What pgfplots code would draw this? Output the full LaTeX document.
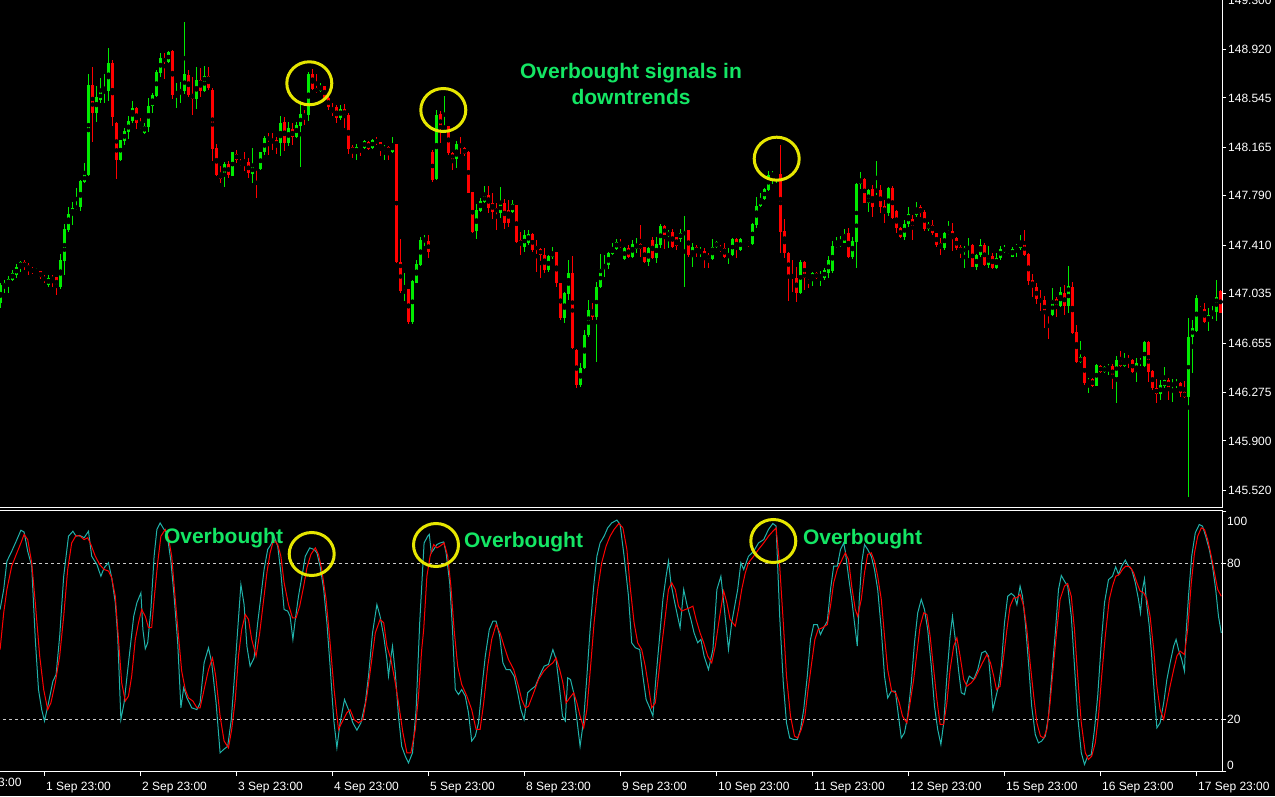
\documentclass[border=0pt]{standalone}
\usepackage{fontspec}
\setmainfont{Liberation Sans}
\usepackage{pgfplots}
\usepackage{pgfplotstable}
\pgfplotsset{compat=1.18}

\definecolor{bull}{RGB}{0,235,0}
\definecolor{bear}{RGB}{255,0,0}
\definecolor{kline}{RGB}{32,178,170}
\definecolor{dline}{RGB}{255,0,0}
\definecolor{levels}{RGB}{200,200,200}
\definecolor{note}{RGB}{20,230,100}
\definecolor{ring}{RGB}{230,230,0}

\newcommand\tickfont{\fontsize{12}{14}\selectfont}
\newcommand\notefont{\bfseries\fontsize{21}{26}\selectfont}

% hourly candles, x = bar index (0 = 1 Sep 23:00)
\pgfplotstableread{
i o h l c
-11 146.964 147.118 146.925 147.102
-10 147.087 147.141 147.041 147.118
-9 147.110 147.172 147.041 147.149
-8 147.141 147.218 147.133 147.195
-7 147.179 147.264 147.156 147.241
-6 147.241 147.287 147.203 147.280
-5 147.280 147.295 147.218 147.241
-4 147.256 147.272 147.179 147.226
-3 147.226 147.241 147.187 147.203
-2 147.208 147.233 147.195 147.212
-1 147.210 147.212 147.149 147.164
0 147.164 147.179 147.118 147.141
1 147.102 147.179 147.087 147.156
2 147.164 147.179 147.087 147.141
3 147.164 147.166 147.025 147.087
4 147.087 147.342 147.072 147.295
5 147.287 147.573 147.179 147.535
6 147.527 147.704 147.511 147.650
7 147.650 147.743 147.565 147.696
8 147.689 147.851 147.681 147.712
9 147.704 147.912 147.673 147.904
10 147.897 148.043 147.889 147.958
11 147.951 148.729 147.943 148.645
12 148.645 148.783 148.205 148.429
13 148.429 148.637 148.359 148.552
14 148.529 148.699 148.506 148.591
15 148.583 148.729 148.506 148.606
16 148.598 148.930 148.521 148.814
17 148.814 148.837 148.329 148.398
18 148.352 148.360 147.920 148.066
19 148.066 148.225 148.059 148.221
20 148.213 148.313 148.182 148.290
21 148.282 148.406 148.228 148.367
22 148.367 148.521 148.352 148.467
23 148.467 148.475 148.305 148.352
24 148.336 148.390 148.305 148.313
25 148.275 148.352 148.267 148.329
26 148.321 148.544 148.282 148.483
27 148.483 148.583 148.429 148.568
28 148.560 148.760 148.552 148.745
29 148.737 148.891 148.706 148.853
30 148.853 148.891 148.691 148.822
31 148.822 148.907 148.814 148.899
32 148.907 148.915 148.537 148.568
33 148.575 148.660 148.467 148.591
34 148.583 148.668 148.506 148.614
35 148.598 149.130 148.575 148.729
36 148.722 148.760 148.552 148.568
37 148.575 148.706 148.414 148.537
38 148.537 148.783 148.460 148.683
39 148.683 148.776 148.552 148.598
40 148.598 148.791 148.591 148.714
41 148.714 148.783 148.606 148.622
42 148.606 148.622 148.059 148.151
43 148.159 148.190 147.943 147.951
44 147.958 148.020 147.889 147.920
45 147.951 148.051 147.858 148.036
46 148.036 148.059 147.928 147.951
47 147.943 148.130 147.940 148.128
48 148.113 148.144 148.043 148.066
49 148.051 148.074 148.020 148.028
50 148.043 148.128 147.982 148.028
51 148.051 148.082 147.928 147.966
52 147.958 148.159 147.889 148.020
53 148.005 148.008 147.773 147.997
54 147.997 148.131 147.989 148.128
55 148.128 148.252 148.105 148.236
56 148.236 148.275 148.105 148.228
57 148.228 148.275 148.144 148.205
58 148.221 148.244 148.113 148.174
59 148.198 148.406 148.097 148.352
60 148.359 148.398 148.136 148.198
61 148.198 148.359 148.174 148.313
62 148.305 148.352 148.182 148.244
63 148.244 148.359 148.236 148.336
64 148.329 148.521 148.012 148.421
65 148.421 148.452 148.336 148.398
66 148.414 148.745 148.367 148.729
67 148.729 148.768 148.606 148.614
68 148.622 148.729 148.583 148.591
69 148.598 148.660 148.591 148.637
70 148.637 148.640 148.529 148.544
71 148.544 148.568 148.452 148.475
72 148.460 148.506 148.406 148.429
73 148.475 148.490 148.352 148.390
74 148.390 148.490 148.375 148.460
75 148.460 148.498 148.313 148.406
76 148.414 148.429 148.113 148.151
77 148.167 148.182 148.082 148.128
78 148.120 148.190 148.066 148.167
79 148.174 148.182 148.097 148.167
80 148.159 148.221 148.151 148.213
81 148.205 148.213 148.144 148.151
82 148.159 148.228 148.151 148.221
83 148.221 148.244 148.182 148.198
84 148.205 148.208 148.097 148.144
85 148.144 148.182 148.066 148.167
86 148.167 148.174 148.066 148.128
87 148.128 148.244 148.120 148.190
88 148.190 148.193 147.275 147.280
89 147.280 147.457 147.041 147.056
90 147.041 147.195 146.979 147.064
91 147.072 147.075 146.802 146.817
92 146.817 147.141 146.802 147.133
93 147.118 147.295 147.115 147.264
94 147.256 147.473 147.249 147.450
95 147.442 147.488 147.404 147.465
96 147.442 147.488 147.311 147.357
97 148.128 148.144 147.897 147.912
98 147.920 148.452 147.912 148.414
99 148.421 148.444 148.198 148.305
100 148.305 148.560 148.275 148.329
101 148.329 148.332 148.105 148.120
102 148.120 148.128 147.989 148.066
103 148.074 148.213 148.005 148.190
104 148.190 148.244 148.113 148.159
105 148.159 148.167 148.097 148.113
106 148.128 148.136 147.810 147.812
107 147.820 147.822 147.504 147.511
108 147.519 147.727 147.457 147.681
109 147.673 147.773 147.665 147.750
110 147.743 147.866 147.735 147.797
111 147.797 147.866 147.658 147.696
112 147.735 147.812 147.612 147.665
113 147.696 147.735 147.527 147.665
114 147.658 147.858 147.619 147.735
115 147.735 147.766 147.535 147.581
116 147.681 147.758 147.550 147.581
117 147.665 147.758 147.658 147.727
118 147.720 147.723 147.427 147.435
119 147.450 147.511 147.334 147.411
120 147.396 147.527 147.357 147.488
121 147.427 147.527 147.411 147.496
122 147.496 147.504 147.357 147.373
123 147.404 147.450 147.203 147.373
124 147.380 147.388 147.156 147.334
125 147.334 147.388 147.195 147.218
126 147.218 147.334 147.203 147.326
127 147.318 147.396 147.303 147.357
128 147.357 147.360 147.087 147.118
129 147.118 147.121 146.833 146.848
130 146.848 147.049 146.810 147.041
131 147.033 147.295 146.987 147.195
132 147.195 147.326 146.609 146.617
133 146.602 146.609 146.309 146.332
134 146.332 146.501 146.316 146.463
135 146.463 146.756 146.455 146.717
136 146.717 146.987 146.702 146.910
137 146.910 146.964 146.833 146.856
138 146.856 147.126 146.509 147.087
139 147.087 147.342 147.080 147.226
140 147.226 147.334 147.164 147.256
141 147.256 147.357 147.226 147.349
142 147.342 147.427 147.334 147.388
143 147.380 147.457 147.373 147.435
144 147.427 147.457 147.388 147.396
145 147.303 147.396 147.295 147.388
146 147.388 147.411 147.311 147.318
147 147.318 147.450 147.311 147.419
148 147.380 147.465 147.349 147.419
149 147.419 147.565 147.318 147.380
150 147.396 147.398 147.272 147.280
151 147.280 147.396 147.249 147.388
152 147.450 147.473 147.308 147.311
153 147.311 147.473 147.272 147.419
154 147.411 147.573 147.388 147.558
155 147.558 147.565 147.380 147.488
156 147.481 147.527 147.388 147.511
157 147.511 147.535 147.388 147.396
158 147.473 147.476 147.373 147.404
159 147.457 147.535 147.435 147.504
160 147.488 147.635 147.087 147.519
161 147.527 147.530 147.318 147.334
162 147.318 147.427 147.241 147.396
163 147.396 147.411 147.318 147.357
164 147.357 147.396 147.318 147.373
165 147.365 147.388 147.233 147.303
166 147.334 147.349 147.233 147.303
167 147.303 147.457 147.295 147.396
168 147.396 147.442 147.388 147.435
169 147.396 147.411 147.357 147.365
170 147.388 147.427 147.311 147.318
171 147.326 147.388 147.264 147.342
172 147.334 147.465 147.326 147.457
173 147.457 147.465 147.311 147.380
174 147.373 147.465 147.365 147.457
175 147.457 147.465 147.427 147.435
176 147.435 147.442 147.396 147.411
177 147.419 147.581 147.411 147.573
178 147.565 147.781 147.542 147.712
179 147.712 147.812 147.704 147.766
180 147.766 147.851 147.758 147.843
181 147.835 147.982 147.827 147.951
182 147.943 147.982 147.881 147.966
183 147.951 147.968 147.889 147.966
184 147.958 148.182 147.349 147.511
185 147.519 147.612 147.311 147.349
186 147.349 147.357 146.979 147.172
187 147.179 147.295 147.049 147.156
188 147.156 147.241 146.972 147.041
189 147.041 147.295 147.033 147.280
190 147.280 147.287 147.064 147.156
191 147.172 147.175 147.080 147.156
192 147.149 147.203 147.095 147.195
193 147.195 147.203 147.149 147.156
194 147.164 147.210 147.095 147.179
195 147.156 147.233 147.141 147.218
196 147.195 147.326 147.156 147.295
197 147.210 147.442 147.195 147.404
198 147.396 147.473 147.388 147.419
199 147.404 147.481 147.396 147.435
200 147.427 147.535 147.425 147.496
201 147.504 147.542 147.311 147.318
202 147.318 147.473 147.303 147.442
203 147.435 147.889 147.233 147.881
204 147.881 147.974 147.843 147.920
205 147.920 147.928 147.732 147.735
206 147.735 147.843 147.665 147.835
207 147.843 147.874 147.627 147.704
208 147.820 148.059 147.797 147.843
209 147.835 147.874 147.658 147.704
210 147.712 147.758 147.581 147.658
211 147.658 147.858 147.635 147.851
212 147.851 147.866 147.612 147.619
213 147.673 147.681 147.504 147.542
214 147.542 147.550 147.465 147.473
215 147.473 147.604 147.450 147.573
216 147.573 147.704 147.550 147.650
217 147.612 147.642 147.450 147.542
218 147.642 147.743 147.627 147.689
219 147.704 147.720 147.627 147.658
220 147.665 147.681 147.519 147.535
221 147.535 147.589 147.519 147.573
222 147.565 147.604 147.488 147.504
223 147.504 147.507 147.396 147.411
224 147.427 147.465 147.334 147.388
225 147.388 147.511 147.373 147.504
226 147.496 147.596 147.488 147.519
227 147.519 147.581 147.365 147.457
228 147.465 147.473 147.373 147.388
229 147.396 147.411 147.311 147.357
230 147.357 147.404 147.233 147.388
231 147.373 147.465 147.311 147.404
232 147.411 147.419 147.238 147.241
233 147.241 147.342 147.218 147.334
234 147.334 147.457 147.318 147.411
235 147.411 147.427 147.249 147.256
236 147.256 147.404 147.233 147.326
237 147.326 147.349 147.226 147.233
238 147.233 147.349 147.226 147.311
239 147.311 147.404 147.295 147.380
240 147.357 147.411 147.349 147.388
241 147.318 147.349 147.311 147.334
242 147.318 147.396 147.318 147.380
243 147.388 147.419 147.318 147.404
244 147.388 147.488 147.373 147.435
245 147.435 147.527 147.326 147.334
246 147.342 147.349 147.102 147.133
247 147.141 147.187 147.010 147.087
248 147.087 147.118 146.956 146.995
249 147.002 147.064 146.902 146.972
250 146.987 147.018 146.771 146.879
251 146.887 146.890 146.686 146.871
252 146.871 147.080 146.864 146.987
253 146.995 147.010 146.856 146.941
254 146.941 147.087 146.933 147.049
255 147.041 147.102 146.871 146.941
256 146.941 147.249 146.887 147.095
257 147.087 147.126 146.725 146.733
258 146.741 146.794 146.501 146.509
259 146.509 146.671 146.501 146.547
260 146.547 146.555 146.332 146.347
261 146.347 146.386 146.270 146.370
262 146.378 146.386 146.316 146.324
263 146.324 146.494 146.324 146.486
264 146.478 146.486 146.424 146.432
265 146.432 146.478 146.424 146.471
266 146.455 146.494 146.409 146.478
267 146.478 146.494 146.301 146.393
268 146.393 146.555 146.193 146.524
269 146.524 146.594 146.471 146.478
270 146.478 146.578 146.471 146.524
271 146.532 146.563 146.463 146.517
272 146.524 146.532 146.424 146.432
273 146.432 146.540 146.355 146.501
274 146.494 146.540 146.478 146.524
275 146.478 146.671 146.471 146.663
276 146.663 146.671 146.355 146.432
277 146.440 146.447 146.293 146.309
278 146.309 146.378 146.193 146.262
279 146.262 146.370 146.216 146.332
280 146.324 146.471 146.309 146.370
281 146.370 146.386 146.216 146.309
282 146.324 146.378 146.201 146.347
283 146.332 146.378 146.309 146.347
284 146.347 146.355 146.239 146.270
285 146.278 146.363 146.236 146.239
286 146.239 146.848 145.468 146.702
287 146.702 146.833 146.424 146.771
288 146.748 147.025 146.740 147.002
289 146.918 146.941 146.895 146.902
290 146.918 146.964 146.810 146.817
291 146.825 146.925 146.748 146.871
292 146.864 146.941 146.841 146.895
293 146.895 147.141 146.825 147.010
294 147.056 147.064 146.887 146.887
}\candles

% stochastic %K
\pgfplotstableread{
i v
-11.1 62.3
-10.2 70.0
-9.4 80.9
-8.2 84.7
-6.9 89.2
-5.9 92.8
-5.1 92.1
-4.2 84.7
-3.2 79.0
-2.3 50.8
-1.5 31.5
-0.7 23.8
0 19.4
1.0 26.4
2.1 34.7
2.9 37.3
3.8 52.1
4.8 75.1
6.0 90.5
7.1 92.4
7.9 90.5
8.8 90.8
9.9 89.9
11.0 92.4
11.8 82.8
13.1 79.6
14.1 75.1
14.9 78.3
16.0 80.3
16.8 74.5
17.7 64.9
18.3 52.1
19.1 20.0
19.9 26.4
21.0 41.8
22.3 59.7
23.1 64.9
24.1 68.7
24.6 54.6
25.2 47.2
25.8 49.5
26.6 62.3
27.4 82.8
28.1 93.1
28.9 95.6
29.8 93.3
30.6 91.8
31.6 80.9
32.4 67.4
33.3 49.5
34.1 24.5
34.8 32.2
35.6 28.3
36.8 24.5
38.1 23.8
38.9 26.4
39.9 41.8
41.0 47.6
41.8 41.8
42.9 26.4
43.9 7.2
44.8 8.5
45.8 9.7
46.7 20.0
47.5 36.7
48.3 54.6
49.1 71.9
49.9 64.2
50.6 48.2
51.4 40.5
52.4 43.7
53.3 57.2
54.1 67.4
54.9 77.7
55.8 85.4
56.6 87.3
57.4 90.5
58.3 86.7
59.1 76.4
59.9 62.3
60.8 61.7
61.4 59.7
62.1 50.8
62.7 58.5
63.5 67.4
64.3 74.5
65.2 82.8
66.3 86.0
67.4 85.4
68.1 84.1
68.9 79.0
69.8 70.0
70.6 57.2
71.4 40.5
72.3 20.0
73.1 9.1
73.9 18.7
75.0 27.7
76.0 23.8
77.1 18.7
78.1 15.9
79.1 18.7
80.2 26.4
81.0 36.7
82.0 53.3
83.1 64.2
83.9 59.7
84.8 52.1
85.6 43.1
86.0 36.7
86.4 41.8
87.0 48.2
87.7 37.9
88.5 21.3
89.3 9.7
90.2 5.9
91.0 3.3
92.0 7.2
92.9 23.8
93.8 57.2
94.9 87.9
95.8 90.5
96.2 91.2
96.7 84.1
97.3 85.4
98.1 87.3
98.9 87.9
99.8 88.3
100.4 84.1
101.3 72.6
102.0 54.6
102.7 31.5
103.5 29.6
104.3 31.5
105.2 29.0
106.0 22.6
106.8 11.7
107.7 13.6
108.5 18.7
109.3 31.5
110.2 44.4
111.2 54.6
112.1 57.8
112.9 57.8
113.8 52.1
114.6 41.8
115.4 39.2
116.4 39.2
117.4 36.7
118.3 30.3
119.1 23.8
119.9 20.0
120.8 30.3
121.6 31.5
122.7 32.8
123.9 37.3
124.9 40.5
126.0 41.2
127.1 46.9
127.9 43.1
128.8 31.5
129.5 21.3
130.2 19.4
130.8 36.0
131.5 35.4
132.3 30.3
133.1 20.0
133.9 9.7
134.8 20.0
135.6 36.7
136.4 54.6
137.3 71.3
138.1 82.8
138.9 87.9
139.9 90.5
140.8 93.7
141.8 95.6
143.1 96.7
143.9 95.0
144.9 82.8
146.0 67.4
146.8 49.5
147.7 47.6
148.8 46.9
149.6 36.7
150.4 27.7
151.3 24.5
152.1 21.3
152.9 36.7
153.8 52.1
154.6 66.2
155.4 75.1
156.0 80.9
156.6 72.6
157.4 66.2
158.1 61.0
158.9 55.3
159.8 70.0
160.6 64.2
161.6 58.5
162.4 53.3
163.3 49.5
164.1 50.8
164.9 44.4
166.0 39.2
167.1 46.9
168.1 70.0
169.1 75.1
169.9 63.6
171.0 46.9
171.8 57.2
172.7 64.9
173.3 70.0
174.1 80.3
174.8 77.7
176.0 82.8
177.3 84.7
178.5 87.9
179.8 89.2
181.0 93.1
182.1 95.4
182.9 94.4
183.8 59.7
184.7 34.1
185.5 18.7
186.3 12.9
187.3 12.3
188.2 12.3
189.0 16.2
189.8 23.8
190.7 36.7
191.5 50.8
192.3 56.5
193.2 56.5
194.0 52.7
194.8 55.3
195.7 57.8
196.5 70.0
197.3 79.0
198.2 79.0
199.0 85.4
199.8 87.9
200.2 84.7
201.0 75.1
201.8 66.2
202.7 54.6
203.2 48.2
203.7 66.2
204.3 80.3
205.0 87.3
205.8 85.4
206.7 82.8
207.5 77.7
208.3 70.0
209.2 54.6
210.0 36.7
210.8 28.3
211.7 30.9
212.7 30.9
213.3 23.8
214.2 12.9
215.0 14.9
215.8 21.3
216.7 34.1
217.5 49.5
218.3 61.0
219.2 66.2
220.0 62.3
220.8 54.6
221.7 40.5
222.5 25.1
223.3 16.2
224.1 10.4
224.8 18.7
225.6 36.7
226.4 52.1
227.0 59.7
227.7 50.8
228.5 39.2
229.2 30.3
230.0 29.6
230.6 34.1
231.2 36.7
232.3 35.4
233.3 39.2
234.3 45.6
235.2 46.3
236.0 44.4
236.7 31.5
237.1 23.8
237.7 27.7
238.5 32.8
239.2 40.5
240.0 57.2
240.8 67.4
241.7 68.5
242.5 67.4
243.1 64.2
243.9 71.3
244.5 67.4
245.2 57.2
246.0 41.8
246.8 25.1
247.7 14.2
248.5 11.0
249.3 11.7
250.2 13.6
251.0 21.3
251.8 36.7
252.7 53.3
253.5 70.0
254.2 75.4
255.0 73.2
255.8 71.3
256.7 59.7
257.5 40.5
258.3 21.3
259.2 7.2
260.0 2.7
260.8 5.9
261.7 6.5
262.5 16.2
263.3 29.0
264.2 49.5
265.0 64.9
266.0 73.8
267.0 75.1
267.8 78.7
268.5 75.8
269.3 79.0
270.2 81.3
271.0 79.0
271.8 77.7
272.7 72.6
273.5 66.2
274.0 61.0
274.5 70.0
275.0 74.1
275.5 64.9
276.2 55.9
276.8 44.4
277.5 29.0
278.1 16.8
278.9 18.7
279.8 26.4
280.6 35.4
281.4 41.8
282.3 48.2
282.9 50.8
283.5 46.9
284.3 43.1
285.0 38.6
285.3 50.8
286.0 67.4
286.8 82.8
287.7 91.8
288.7 95.0
289.5 94.4
290.3 90.5
291.2 85.4
292.0 79.0
292.8 70.0
293.5 59.7
294.2 53.3
}\kdata

% stochastic %D (signal)
\pgfplotstableread{
i v
-11.1 46.9
-10.2 61.0
-9.4 70.0
-8.2 79.0
-6.9 84.1
-5.9 87.9
-5.1 91.2
-4.2 89.2
-3.2 80.3
-2.3 64.9
-1.2 44.4
-0.2 31.5
0.8 23.8
1.6 26.4
2.7 34.1
3.8 44.4
4.8 59.7
5.8 77.7
6.8 87.9
7.9 90.8
8.9 90.5
9.9 89.2
10.8 89.9
11.6 87.3
12.7 82.8
13.8 79.6
14.9 77.7
16.0 77.1
16.8 74.5
17.7 67.4
18.5 50.8
19.3 34.1
20.2 27.1
21.0 29.0
21.8 36.7
22.7 50.8
23.5 57.2
24.3 62.3
25.2 59.7
26.0 55.3
26.8 55.3
27.4 66.2
28.3 80.3
29.1 90.5
30.2 93.1
31.0 89.9
31.8 82.8
32.7 66.2
33.5 52.1
34.3 38.6
35.2 31.5
36.0 28.3
37.1 27.1
38.1 24.5
38.9 24.5
39.9 31.5
41.0 39.2
42.0 43.7
42.8 36.7
43.9 21.3
44.9 11.7
46.0 9.1
46.8 16.2
47.7 27.7
48.5 44.4
49.3 54.6
50.2 60.4
51.0 58.5
51.8 50.8
52.9 44.4
53.8 53.3
54.8 66.2
55.6 76.4
56.4 84.1
57.3 89.2
58.3 87.3
59.1 82.8
59.9 72.6
61.0 64.2
62.0 59.1
62.9 59.1
63.8 63.6
64.8 71.3
65.6 78.3
66.6 83.5
67.7 86.0
68.5 83.5
69.3 77.7
70.4 66.2
71.4 49.5
72.4 31.5
73.5 16.2
74.3 18.7
75.6 22.6
76.4 23.8
77.4 20.0
78.5 18.7
79.6 20.0
80.6 29.0
81.6 40.5
82.7 53.3
83.9 58.5
84.8 57.2
85.6 48.2
86.6 43.1
87.7 34.1
88.5 26.4
89.6 14.9
90.6 7.2
91.6 7.2
92.7 16.2
93.5 29.0
94.3 46.9
94.8 54.6
95.6 75.1
96.4 82.8
97.3 87.3
98.1 86.0
98.9 86.7
99.9 87.9
100.8 82.8
101.6 71.3
102.4 54.6
103.3 40.5
104.3 33.5
105.6 29.0
106.8 23.8
107.9 16.2
108.9 16.2
109.8 26.4
110.8 40.5
111.8 50.8
112.9 56.5
113.9 53.3
114.9 48.2
116.0 43.1
117.3 39.2
118.5 32.8
119.3 27.7
120.2 24.5
121.0 25.1
122.3 30.3
123.5 35.4
124.8 38.6
126.0 40.5
127.1 41.8
127.9 43.7
128.8 39.2
129.6 34.1
130.4 26.4
131.3 28.3
132.3 30.3
133.1 26.4
133.9 21.3
134.8 16.8
135.6 23.8
136.6 41.8
137.4 57.2
138.3 70.0
139.3 80.3
140.4 86.7
141.4 90.5
142.4 93.1
143.6 95.4
144.6 93.7
145.6 85.4
146.4 71.3
147.4 57.2
148.3 49.5
149.3 46.9
150.2 40.5
151.0 32.8
151.8 24.5
152.7 26.4
153.5 36.7
154.3 48.2
155.2 59.7
156.0 70.0
156.8 72.6
157.7 70.0
158.5 63.6
159.3 61.7
160.2 62.3
161.2 62.9
162.1 63.6
162.9 58.5
163.9 53.3
164.8 49.5
165.8 44.4
166.8 41.8
167.7 48.2
168.8 59.7
169.8 69.4
170.6 64.9
171.4 58.5
172.7 55.9
173.5 62.3
174.3 70.0
175.2 76.4
176.0 80.3
177.3 82.8
178.5 85.4
179.8 87.9
181.0 90.5
182.1 92.4
182.9 93.7
183.8 79.0
184.7 57.2
185.5 36.7
186.5 21.3
187.5 13.6
188.3 12.9
189.2 16.2
190.1 21.3
190.9 31.5
191.8 41.8
192.6 50.8
193.4 54.6
194.5 55.3
195.7 56.5
196.5 63.6
197.3 72.6
198.2 77.7
199.0 80.3
200.2 84.1
201.0 81.5
201.8 71.3
202.7 62.3
203.3 59.7
204.2 66.2
205.0 76.4
205.8 83.5
206.7 84.1
207.5 80.9
208.3 75.1
209.2 66.2
210.0 52.1
210.8 39.2
211.8 30.9
212.8 30.3
213.7 26.4
214.5 21.3
215.6 18.7
216.4 26.4
217.3 35.4
218.1 45.6
218.9 55.9
219.8 61.0
220.6 60.4
221.4 52.1
222.3 39.2
223.1 27.7
223.9 18.1
224.8 18.1
225.6 26.4
226.4 39.2
227.3 48.2
228.1 51.4
228.9 44.4
229.8 35.4
230.6 32.8
231.7 34.1
232.7 36.0
233.5 38.6
234.5 41.8
235.6 45.0
236.5 41.8
237.3 36.7
238.0 31.5
238.9 32.8
239.8 44.4
240.6 54.6
241.4 63.6
242.3 66.8
243.1 66.8
243.9 68.1
244.8 63.6
245.6 54.6
246.4 41.8
247.3 29.0
248.1 18.7
249.0 13.6
249.8 12.9
250.6 16.2
251.4 26.4
252.3 41.8
253.1 54.6
253.9 66.2
255.0 71.3
255.8 72.3
256.7 67.4
257.5 54.6
258.3 36.7
259.2 18.7
260.2 7.2
261.0 4.6
261.8 5.9
262.7 11.0
263.5 21.3
264.3 36.7
265.2 52.1
266.2 66.2
267.0 71.3
267.8 75.1
268.7 75.8
269.5 77.7
270.3 79.0
271.4 78.7
272.3 76.4
273.1 72.6
273.9 69.4
274.8 68.7
275.6 66.2
276.4 59.7
277.3 46.9
278.1 32.8
278.9 23.8
279.8 20.0
280.6 26.4
281.4 32.8
282.3 39.2
283.1 44.4
283.9 46.3
285.0 45.0
285.8 54.6
286.7 72.6
287.5 84.1
288.3 90.5
289.2 93.7
290.0 93.1
290.8 89.2
291.7 82.8
292.5 76.4
293.3 70.0
294.2 67.4
}\ddata

\pgfplotsset{
  mtpanel/.style={
    scale only axis, width=1225.5pt,
    xmin=-11.875, xmax=294.5,
    axis background/.style={fill=black},
    axis line style={white, line width=1pt},
    tick style={white, line width=1pt},
    major tick length=4pt,
    tick align=outside,
    ytick pos=right,
    yticklabel style={anchor=west, inner sep=0pt, font=\tickfont, text=white},
  },
  candle/.style 2 args={only marks, mark=none, forget plot,
    error bars/y dir=both, error bars/y explicit, error bars/error mark=none,
    error bars/error bar style={draw=#1, line width=#2}},
}

\begin{document}
\begin{tikzpicture}
\fill[black] (0pt,0pt) rectangle (1275pt,796pt);
\path[use as bounding box] (0pt,0pt) rectangle (1275pt,796pt);

% price panel
\begin{axis}[mtpanel, at={(-3pt,288.5pt)}, anchor=south west, height=510.5pt,
  ymin=145.387, ymax=149.323, xtick=\empty,
  yticklabel style={xshift=1.5pt},
  ytick={145.52,145.9,146.275,146.655,147.035,147.41,147.79,148.165,148.545,148.92,149.3},
  yticklabels={145.520,145.900,146.275,146.655,147.035,147.410,147.790,148.165,148.545,148.920,149.300}]
\addplot[restrict expr to domain={\thisrow{c}-\thisrow{o}}{0:10}, candle={bull}{1pt}]
  table[x=i, y expr={(\thisrow{h}+\thisrow{l})/2}, y error expr={(\thisrow{h}-\thisrow{l})/2}] {\candles};
\addplot[restrict expr to domain={\thisrow{c}-\thisrow{o}}{-10:-0.0001}, candle={bear}{1pt}]
  table[x=i, y expr={(\thisrow{h}+\thisrow{l})/2}, y error expr={(\thisrow{h}-\thisrow{l})/2}] {\candles};
\addplot[restrict expr to domain={\thisrow{c}-\thisrow{o}}{0:10}, candle={bull}{3pt}]
  table[x=i, y expr={(\thisrow{o}+\thisrow{c})/2}, y error expr={max(abs(\thisrow{c}-\thisrow{o})/2,0.004)}] {\candles};
\addplot[restrict expr to domain={\thisrow{c}-\thisrow{o}}{-10:-0.0001}, candle={bear}{3pt}]
  table[x=i, y expr={(\thisrow{o}+\thisrow{c})/2}, y error expr={max(abs(\thisrow{c}-\thisrow{o})/2,0.004)}] {\candles};
\end{axis}

% stochastic panel
\begin{axis}[mtpanel, at={(-3pt,24.5pt)}, anchor=south west, height=261pt,
  ymin=0, ymax=100.385, ytick={20,80}, yticklabels={20,80},
  yticklabel style={xshift=0.5pt},
  extra y ticks={0,100}, extra y tick labels={},
  xtick={0,24,...,288}, xtick pos=bottom,
  xticklabels={1 Sep 23:00,2 Sep 23:00,3 Sep 23:00,4 Sep 23:00,5 Sep 23:00,8 Sep 23:00,9 Sep 23:00,10 Sep 23:00,11 Sep 23:00,12 Sep 23:00,15 Sep 23:00,16 Sep 23:00,17 Sep 23:00},
  xticklabel style={anchor=north west, inner sep=0pt, xshift=1.5pt, yshift=-6pt, font=\tickfont, text=white}]
\addplot[levels, line width=1pt, dash pattern=on 3pt off 3pt, forget plot] coordinates {(-11.875,20) (294.5,20)};
\addplot[levels, line width=1pt, dash pattern=on 3pt off 3pt, forget plot] coordinates {(-11.875,80) (294.5,80)};
\addplot[kline, line width=1pt, mark=none] table[x=i, y=v] {\kdata};
\addplot[dline, line width=1pt, mark=none] table[x=i, y=v] {\ddata};
\end{axis}

% labels that sit off the regular tick places
\node[anchor=west, inner sep=0pt, text=white, font=\tickfont] at (1227pt,275pt) {100};
\node[anchor=west, inner sep=0pt, text=white, font=\tickfont] at (1227pt,31pt) {0};
\node[anchor=north west, inner sep=0pt, text=white, font=\tickfont] at (-50pt,18.5pt) {29 Aug 23:00};

% annotations
\node[text=note, font=\notefont, align=center] at (631pt,712pt) {Overbought signals in\\downtrends};
\node[text=note, font=\notefont] at (223.5pt,258pt) {Overbought};
\node[text=note, font=\notefont] at (523.5pt,254pt) {Overbought};
\node[text=note, font=\notefont] at (862.5pt,257pt) {Overbought};

\draw[ring, line width=3pt] (309.3pt,712.7pt) ellipse (22.5pt and 21.5pt);
\draw[ring, line width=3pt] (443.3pt,686pt) ellipse (22.5pt and 21.5pt);
\draw[ring, line width=3pt] (776.7pt,637.3pt) ellipse (22.5pt and 21.5pt);
\draw[ring, line width=3pt] (311.7pt,242pt) ellipse (22.5pt and 21.5pt);
\draw[ring, line width=3pt] (436pt,251pt) ellipse (22.5pt and 21.5pt);
\draw[ring, line width=3pt] (773.3pt,255pt) ellipse (22.5pt and 21.5pt);
\end{tikzpicture}
\end{document}
